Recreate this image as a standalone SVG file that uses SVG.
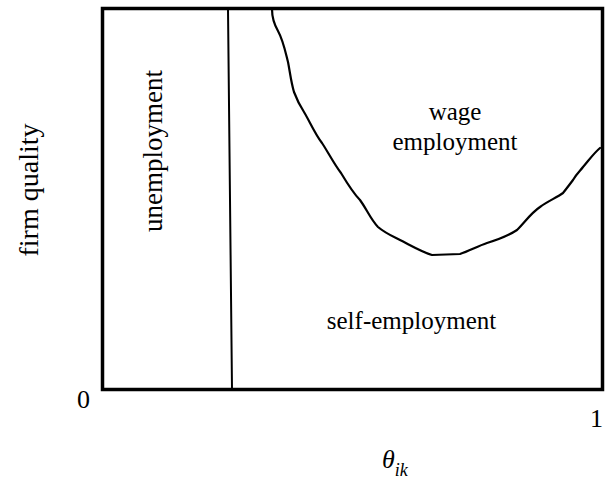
<svg xmlns="http://www.w3.org/2000/svg" width="605" height="487" viewBox="0 0 605 487">
<style>
text{font-family:"Liberation Serif","Times New Roman",serif;fill:#000}
.lbl{font-size:25px}
.ax{font-size:26px}
.line{fill:none;stroke:#000;stroke-linejoin:round;stroke-linecap:round}
</style>
<rect x="0" y="0" width="605" height="487" fill="#fff"/>
<g id="frame">
<rect x="102.5" y="8.5" width="500" height="381" fill="none" stroke="#000" stroke-width="3.5"/>
</g>
<g id="connectors">
<line class="line" x1="228" y1="9" x2="232" y2="389" stroke-width="2"/>
<path class="line" stroke-width="2.2" d="M272,9 C272,18 274,24 278,31 C283,40 285,50 288,62 C290,72 291,82 294,92 C297,100 300,106 304,112 C310,122 315,134 322,143 C328,152 334,164 341,173 C347,183 353,193 360,200 C366,208 371,220 378,227 C385,233 392,236 400,240 C410,245 422,252 432,255 L460,254 C469,251 478,246 487,243 C497,240 508,236 517,230 C525,222 531,213 540,207 C548,201 556,198 563,193 C567,188 570,184 573,180 C577,173 580,171 583,167 C589,160 594,153 600,148"/>
</g>
<g id="unemployment">
<text class="lbl" transform="translate(162,151) rotate(-90)" text-anchor="middle" style="font-size:27px">unemployment</text>
</g>
<g id="wage-employment">
<text class="lbl" x="455" y="120" text-anchor="middle">wage</text>
<text class="lbl" x="455" y="150" text-anchor="middle">employment</text>
</g>
<g id="self-employment">
<text class="lbl" x="411.5" y="329" text-anchor="middle">self-employment</text>
</g>
<g id="axes">
<text class="ax" transform="translate(38,190) rotate(-90)" text-anchor="middle" style="font-size:28px">firm quality</text>
<text class="ax" x="77" y="408">0</text>
<text class="ax" x="590" y="427">1</text>
<text class="ax" x="382" y="468" font-style="italic">θ<tspan font-size="18" dy="8">ik</tspan></text>
</g>
</svg>
